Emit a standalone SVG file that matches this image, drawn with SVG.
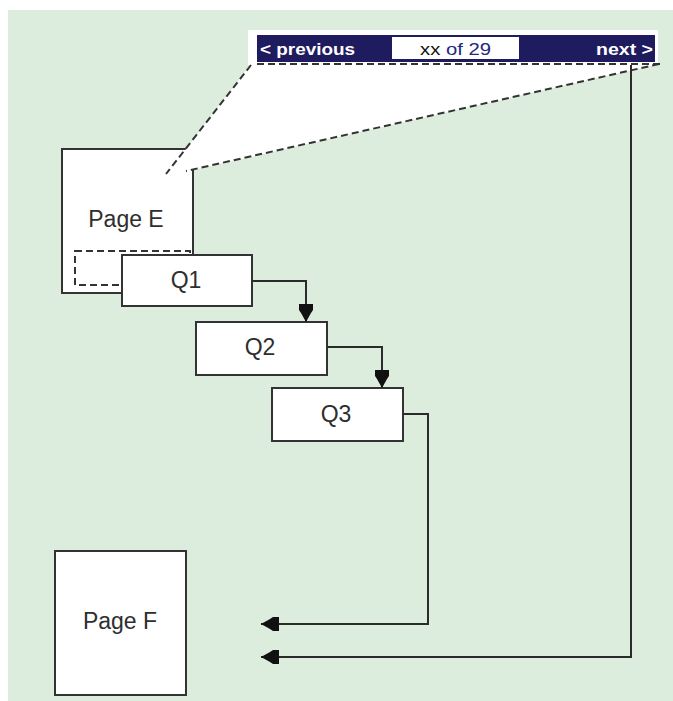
<svg xmlns="http://www.w3.org/2000/svg" width="673" height="701" viewBox="0 0 673 701">
  <style>
    .box { fill: #ffffff; stroke: #333333; stroke-width: 2; }
    .dash { fill: none; stroke: #333333; stroke-width: 2; stroke-dasharray: 7 4; }
    .wire { fill: none; stroke: #2b2b2b; stroke-width: 2; }
    .label { font-family: "Liberation Sans", Arial, sans-serif; font-size: 23px; fill: #2e2e2e; text-anchor: middle; }
    .nav { font-family: "Liberation Sans", Arial, sans-serif; font-size: 17px; font-weight: bold; }
    .count { font-family: "Liberation Sans", Arial, sans-serif; font-size: 17px; font-weight: normal; }
  </style>
  <defs>
    <marker id="arrow" viewBox="-19 -8 20 16" refX="0" refY="0" markerWidth="20" markerHeight="16" markerUnits="userSpaceOnUse" orient="auto">
      <path d="M0,0 L-9,-5 L-12,-7 L-18,-7 L-18,7 L-12,7 L-9,5 Z" fill="#111111"/>
    </marker>
  </defs>

  <!-- backdrop -->
  <rect x="8" y="10" width="665" height="691" fill="#ddeddd"/>

  <!-- page E -->
  <g id="page-e">
    <rect class="box" x="62" y="149" width="131" height="144"/>
    <text class="label" x="126" y="227">Page E</text>
  </g>

  <!-- magnified navigation bar with its callout -->
  <g id="nav-callout">
    <rect x="248" y="30" width="410" height="35" fill="#ffffff"/>
    <polygon points="251,64 659,64 193,170 167,174" fill="#ffffff"/>
    <rect x="257" y="35" width="398" height="27" fill="#1e1b5e"/>
    <rect x="392" y="37" width="127" height="22" fill="#ffffff"/>
    <text class="nav" x="260" y="55" fill="#ffffff" textLength="95" lengthAdjust="spacingAndGlyphs">&lt; previous</text>
    <text class="count" x="420" y="55" textLength="71" lengthAdjust="spacingAndGlyphs"><tspan fill="#111111">xx</tspan><tspan fill="#1e2a80"> of 29</tspan></text>
    <text class="nav" x="653" y="55" fill="#ffffff" text-anchor="end" textLength="57" lengthAdjust="spacingAndGlyphs">next &gt;</text>
    <line class="dash" x1="257" y1="64" x2="660" y2="64"/>
    <line class="dash" x1="251" y1="65" x2="166" y2="174"/>
    <line class="dash" x1="659" y1="64" x2="186" y2="171"/>
  </g>

  <!-- area of page E that the bar sits on -->
  <rect id="bar-region" class="dash" x="75" y="251" width="115" height="34"/>

  <g id="q1">
    <rect class="box" x="122" y="255" width="130" height="51"/>
    <text class="label" x="186" y="288">Q1</text>
  </g>
  <g id="q2">
    <rect class="box" x="196" y="322" width="131" height="53"/>
    <text class="label" x="260" y="355">Q2</text>
  </g>
  <g id="q3">
    <rect class="box" x="272" y="388" width="131" height="53"/>
    <text class="label" x="336" y="422">Q3</text>
  </g>

  <g id="page-f">
    <rect class="box" x="55" y="551" width="131" height="144"/>
    <text class="label" x="120" y="629">Page F</text>
  </g>

  <!-- connectors -->
  <g id="connectors">
    <path class="wire" d="M252,281 H306 V322" marker-end="url(#arrow)"/>
    <path class="wire" d="M327,347 H382 V388" marker-end="url(#arrow)"/>
    <path class="wire" d="M403,414 H428 V624 H261" marker-end="url(#arrow)"/>
    <path class="wire" d="M631,65 V657 H261" marker-end="url(#arrow)"/>
  </g>
</svg>
